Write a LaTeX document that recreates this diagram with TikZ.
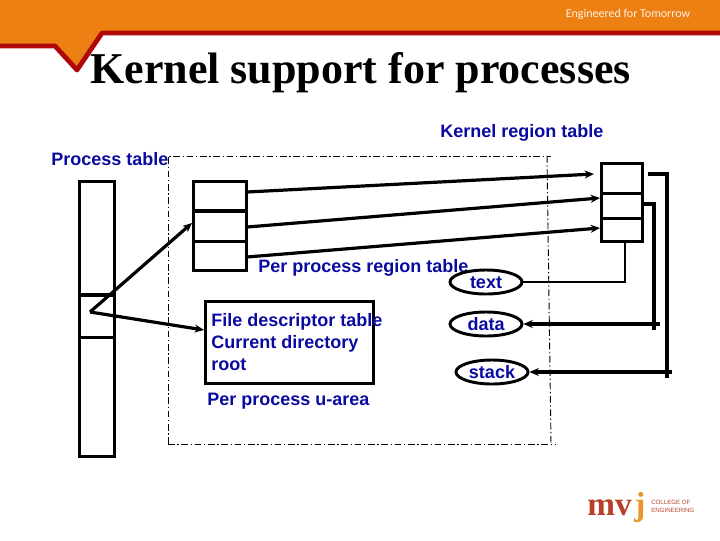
\documentclass[tikz,border=0pt]{standalone}
\usepackage{fontspec}
\setmainfont{Liberation Sans}
\newfontfamily\titlefont{Liberation Serif}
\newfontfamily\bannerfont{Carlito}
\usetikzlibrary{arrows.meta,shapes.geometric,positioning}
\definecolor{bandorange}{HTML}{EC8012}
\definecolor{bandred}{HTML}{B00808}
\definecolor{labelblue}{HTML}{0A0AA0}
\definecolor{logored}{HTML}{B8402A}
\definecolor{logoorange}{HTML}{E8962A}

\begin{document}
\begin{tikzpicture}[
    x=0.75pt, y=-0.75pt,
    label/.style={inner sep=0pt, anchor=west, text=labelblue, font=\bfseries\fontsize{13.5}{15}\selectfont},
    cell/.style={draw, line width=2.2pt, inner sep=0pt, anchor=north west},
    seg/.style={draw, ellipse, line width=2.2pt, inner sep=0pt, minimum width=54pt, minimum height=18pt,
        text height=10pt, text depth=0pt, text=labelblue, font=\bfseries\fontsize{13.5}{15}\selectfont},
    link/.style={line width=2.4pt, -{Stealth[length=7pt,width=6pt]}},
    wire/.style={line width=2.4pt},
    heavy/.style={line width=3pt, -{Stealth[length=7pt,width=6pt]}},
    frame/.style={line width=0.7pt, dash pattern=on 5pt off 2pt on 1pt off 2pt},
    logo/.style={inner sep=0pt, anchor=base west, text=logored}
]
\useasboundingbox (0,0) rectangle (720,540);

% Banner
\fill[bandorange] (0,0) -- (720,0) -- (720,33) -- (102,33) -- (77,70) -- (55,46) -- (0,46) -- cycle;
\draw[bandred, line width=3.6pt, line join=round] (0,46) -- (55,46) -- (77,70) -- (102,33) -- (720,33);
\node[inner sep=0pt, text=white!90!orange, font=\bannerfont\fontsize{9}{10}\selectfont] (motto) at (628,14) {Engineered for Tomorrow};

% Title
\node[inner sep=0pt, anchor=west, font=\titlefont\bfseries\fontsize{33}{38}\selectfont] (title) at (90,73) {Kernel support for processes};

% Dash-dot boundary
\coordinate (fa) at (168,156);
\coordinate (fb) at (551,156);
\coordinate (fc) at (547,156);
\coordinate (fd) at (551,444);
\coordinate (fe) at (168,444);
\coordinate (ff) at (556,444);
\draw[frame] (fe) -- (fa) -- (fb);
\draw[frame] (fc) -- (fd);
\draw[frame] (fe) -- (ff);

% Process table
\node[cell, minimum width=26pt, minimum height=85pt] (p1) at (78,180) {};
\node[cell, minimum width=26pt, minimum height=31.5pt] (p2) at (78,294) {};
\node[cell, minimum width=26pt, minimum height=89pt] (p3) at (78,336) {};
\node[label] (ptl) at (51,159) {Process table};

% Per process region table
\node[cell, minimum width=39.5pt, minimum height=22pt] (r1) at (192,180) {};
\node[cell, minimum width=39.5pt, minimum height=22.5pt] (r2) at (192,210) {};
\node[cell, minimum width=39.5pt, minimum height=22pt] (r3) at (192,240) {};
\node[label] (rtl) at (258,268) {Per process region table};

% Kernel region table
\node[cell, minimum width=31pt, minimum height=22.5pt] (k1) at (600,162) {};
\node[cell, minimum width=31pt, minimum height=18.75pt] (k2) at (600,192) {};
\node[cell, minimum width=31pt, minimum height=17pt] (k3) at (600,217) {};
\node[label] (ktl) at (440,133) {Kernel region table};

% u-area
\node[cell, minimum width=126pt, minimum height=61.5pt] (u) at (204,300) {};
\node[label] (u1) at (211,322) {File descriptor table};
\node[label] (u2) at (211,344) {Current directory};
\node[label] (u3) at (211,365) {root};
\node[label] (ul) at (207,401) {Per process u-area};

% Segments
\node[seg] (text) at (486,282) {text};
\node[seg] (data) at (486,324) {data};
\node[seg] (stack) at (492,372) {stack};

% Process table entry to its two tables
\coordinate (pe) at (90,312);
\coordinate (r2in) at (192,223);
\coordinate (uin) at (204,330);
\draw[link] (pe) -- (r2in);
\draw[link] (pe) -- (uin);

% Region table to kernel table
\coordinate (a1s) at (247,192);
\coordinate (a1e) at (594,174);
\coordinate (a2s) at (247,227);
\coordinate (a2e) at (600,198);
\coordinate (a3s) at (247,257);
\coordinate (a3e) at (600,228);
\draw[link] (a1s) -- (a1e);
\draw[link] (a2s) -- (a2e);
\draw[link] (a3s) -- (a3e);

% Kernel table to segments
\coordinate (t0) at (625,240);
\draw[wire, line width=2pt] (t0) |- (text.east);
\coordinate (d0) at (643,204);
\coordinate (d1) at (654,204);
\coordinate (d2) at (654,330);
\coordinate (d3) at (660,324);
\draw[wire] (d0) -- (d1) -- (d2);
\draw[heavy] (d3) -- (data.east);
\coordinate (s0) at (648,174);
\coordinate (s1) at (667,174);
\coordinate (s2) at (667,378);
\coordinate (s3) at (672,372);
\draw[wire] (s0) -- (s1) -- (s2);
\draw[heavy] (s3) -- (stack.east);

% Logo
\node[logo, font=\titlefont\bfseries\fontsize{25}{26}\selectfont] (mv) at (587,515) {mv};
\node[logo, text=logoorange, font=\titlefont\bfseries\fontsize{25}{26}\selectfont] (j) at (634,515) {j};
\node[logo, font=\fontsize{4.6}{6}\selectfont] (lg1) at (651,504) {COLLEGE OF};
\node[logo, font=\fontsize{4.6}{6}\selectfont] (lg2) at (651,512) {ENGINEERING};
\end{tikzpicture}
\end{document}
